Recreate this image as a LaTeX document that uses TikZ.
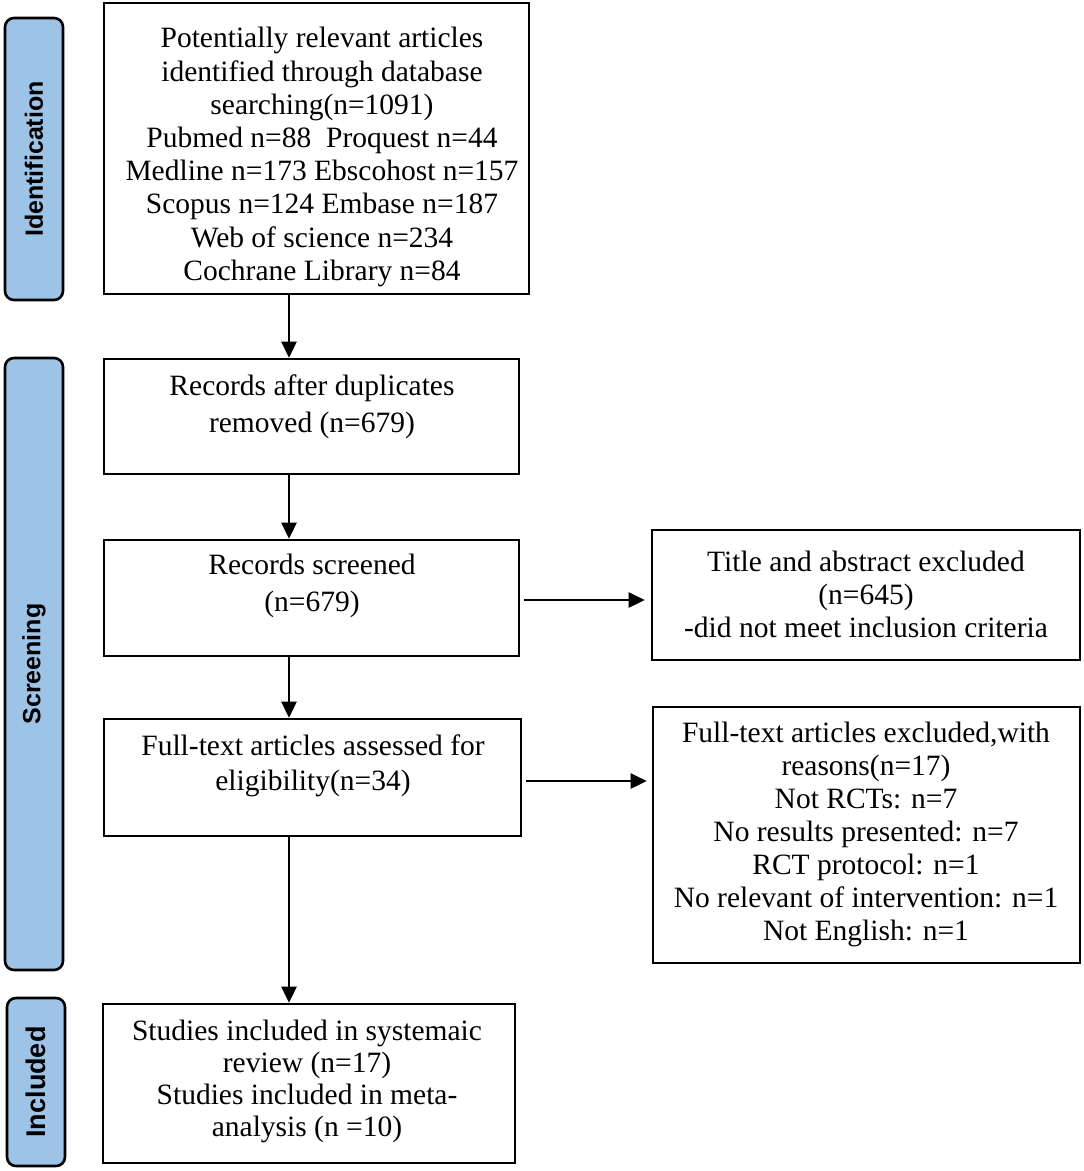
\documentclass[tikz,border=0pt]{standalone}
\usepackage{fontspec}
\setmainfont{Liberation Serif}
\newfontfamily\labfont{Liberation Sans}
\usetikzlibrary{arrows.meta}
\definecolor{phasefill}{RGB}{157,195,230}
\begin{document}
\begin{tikzpicture}[x=1pt,y=-1pt,
  flowbox/.style={draw=black, line width=2.6pt, inner sep=0pt, rectangle},
  phasebox/.style={draw=black, line width=2.6pt, fill=phasefill, rounded corners=9pt, inner sep=0pt, minimum width=58pt},
  phaselab/.style={rotate=90, font=\labfont\bfseries\fontsize{25}{30}\selectfont, inner sep=0pt},
  boxtext/.style={align=center, inner sep=0pt, font=\fontsize{29.5}{33}\selectfont},
  arr/.style={line width=2.6pt, -{Triangle[length=16pt,width=15pt]}}
]
\useasboundingbox (0,0) rectangle (1084,1171);

% phase labels
\node[phasebox, minimum height=282pt] (p1) at (34,159) {};
\node[phaselab] (l1) at (p1.center) {Identification};
\node[phasebox, minimum height=612pt] (p2) at (34,664) {};
\node[phaselab] (l2) at (p2.center) {Screening};
\node[phasebox, minimum height=168pt] (p3) at (36,1082) {};
\node[phaselab, font=\labfont\bfseries\fontsize{27}{30}\selectfont] (l3) at (p3.center) {Included};

% main boxes
\node[flowbox, minimum width=425pt, minimum height=291pt] (b1) at (316.5,148.5) {};
\node[boxtext, font=\fontsize{29.5}{33.2}\selectfont] (t1) at (322,157) {Potentially relevant articles\\identified through database\\searching(n=1091)\\Pubmed n=88\ \ Proquest n=44\\Medline n=173 Ebscohost n=157\\Scopus n=124 Embase n=187\\Web of science n=234\\Cochrane Library n=84};

\node[flowbox, minimum width=415pt, minimum height=115pt] (b2) at (311.5,416.5) {};
\node[boxtext, font=\fontsize{29.5}{37}\selectfont] (t2) at (312,407) {Records after duplicates\\removed (n=679)};

\node[flowbox, minimum width=415pt, minimum height=116pt] (b3) at (311.5,598) {};
\node[boxtext, font=\fontsize{29.5}{37}\selectfont] (t3) at (312,586) {Records screened\\(n=679)};

\node[flowbox, minimum width=417pt, minimum height=117pt] (b4) at (312.5,777.5) {};
\node[boxtext, font=\fontsize{29.5}{35}\selectfont] (t4) at (313,766) {Full-text articles assessed for\\eligibility(n=34)};

\node[flowbox, minimum width=412pt, minimum height=159pt] (b5) at (309,1083.5) {};
\node[boxtext, font=\fontsize{29.5}{32}\selectfont] (t5) at (307,1081) {Studies included in systemaic\\review (n=17)\\Studies included in meta-\\analysis (n =10)};

\node[flowbox, minimum width=428pt, minimum height=130pt] (r1) at (866,595) {};
\node[boxtext] (u1) at (866,594) {Title and abstract excluded\\(n=645)\\-did not meet inclusion criteria};

\node[flowbox, minimum width=427pt, minimum height=256pt] (r2) at (866.5,835) {};
\node[boxtext] (u2) at (866,834) {Full-text articles excluded,with\\reasons(n=17)\\Not RCTs: n=7\\No results presented: n=7\\RCT protocol: n=1\\No relevant of intervention: n=1\\Not English: n=1};

% connectors
\coordinate (ax) at (289,0);
\coordinate (h1) at (0,600);
\coordinate (h2) at (0,781);
\draw[arr] (b1.south -| ax) -- (b2.north -| ax);
\draw[arr] (b2.south -| ax) -- (b3.north -| ax);
\draw[arr] (b3.south -| ax) -- (b4.north -| ax);
\draw[arr] (b4.south -| ax) -- (b5.north -| ax);
\draw[arr, shorten <=4pt, shorten >=6pt] (b3.east |- h1) -- (r1.west |- h1);
\draw[arr, shorten <=4pt, shorten >=5pt] (b4.east |- h2) -- (r2.west |- h2);
\end{tikzpicture}
\end{document}
